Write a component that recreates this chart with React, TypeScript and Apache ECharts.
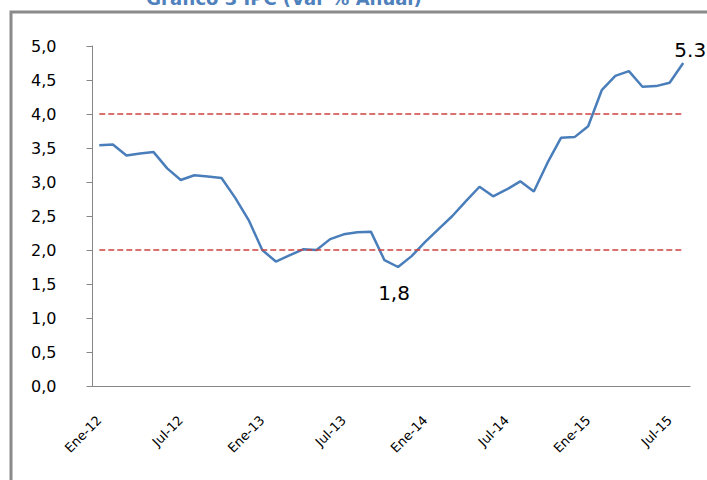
import React, { useEffect, useRef } from "react";
import * as echarts from "echarts";

const monthNames = ["Ene", "Feb", "Mar", "Abr", "May", "Jun", "Jul", "Ago", "Sep", "Oct", "Nov", "Dic"];
const years = ["12", "13", "14", "15"];
const monthCount = 44;
const categories: string[] = [];
for (let i = 0; i < monthCount; i++) {
  categories.push(monthNames[i % 12] + "-" + years[Math.floor(i / 12)]);
}

const ipc = [
  3.54, 3.55, 3.39, 3.42, 3.44, 3.2, 3.03, 3.1, 3.08, 3.06,
  2.77, 2.44, 2.0, 1.83, 1.92, 2.01, 2.0, 2.16, 2.23, 2.26,
  2.27, 1.85, 1.75, 1.91, 2.12, 2.31, 2.5, 2.72, 2.93, 2.79,
  2.89, 3.01, 2.86, 3.28, 3.65, 3.66, 3.82, 4.35, 4.56, 4.63,
  4.4, 4.41, 4.46, 4.75,
];

const targetBand = [2.0, 4.0];

const pointNotes = [
  { index: 22, text: "1,8", position: "bottom" },
  { index: 43, text: "5.3", position: "top" },
];

const yTicks = { min: 0, max: 5, interval: 0.5 };

const titleText = "Gráfico 3 IPC (Var % Anual)";

export default function App() {
  const ref = useRef<HTMLDivElement>(null);
  useEffect(() => {
    if (!ref.current) return;
    const chart = echarts.init(ref.current, null, { renderer: "svg" });
    const font = "DejaVu Sans";
    const data = ipc.map((v, i) => {
      const note = pointNotes.find((n) => n.index === i);
      if (!note) return v;
      return {
        value: v,
        label: {
          show: true,
          formatter: note.text,
          position: note.position,
          fontFamily: font,
          fontSize: 20,
          color: "#000",
          distance: note.position === "top" ? 3 : 16,
          offset: note.position === "top" ? [7, 0] : [-4, 0],
        },
      };
    });
    chart.setOption({
      animation: false,
      backgroundColor: "#fff",
      textStyle: { fontFamily: font },
      graphic: [
        {
          type: "rect",
          shape: { x: 11, y: 12, width: 900, height: 700 },
          style: { fill: "none", stroke: "#8a8a8a", lineWidth: 3 },
          silent: true,
        },
        {
          type: "text",
          x: 284,
          y: -1.5,
          style: {
            text: titleText,
            fill: "#4F81BD",
            font: "bold 18px DejaVu Sans",
            align: "center",
            verticalAlign: "middle",
          },
        },
      ],
      grid: { left: 92.5, right: 17, top: 46, bottom: 94, containLabel: false },
      xAxis: {
        type: "category",
        data: categories,
        boundaryGap: true,
        axisLine: { lineStyle: { color: "#868686", width: 1 } },
        axisTick: { interval: 5, length: 5, lineStyle: { color: "#868686" } },
        axisLabel: {
          interval: 5,
          rotate: 45,
          margin: 32,
          fontFamily: font,
          fontSize: 13,
          color: "#000",
        },
        splitLine: { show: false },
      },
      yAxis: {
        type: "value",
        min: yTicks.min,
        max: yTicks.max,
        interval: yTicks.interval,
        axisLine: { show: true, lineStyle: { color: "#868686", width: 1 } },
        axisTick: { show: true, length: 6, lineStyle: { color: "#868686" } },
        axisLabel: {
          margin: 36,
          fontFamily: font,
          fontSize: 16,
          color: "#000",
          formatter: (v: number) => v.toFixed(1).replace(".", ","),
        },
        splitLine: { show: false },
      },
      series: [
        {
          type: "line",
          data,
          symbol: "circle",
          symbolSize: 0,
          showSymbol: true,
          showAllSymbol: true,
          itemStyle: { color: "#4A7EBB" },
          lineStyle: { color: "#4A7EBB", width: 2.5 },
          markLine: {
            silent: true,
            symbol: ["none", "none"],
            label: { show: false },
            lineStyle: { color: "#D0433F", type: [6, 3], width: 1.5 },
            data: targetBand.map((t) => [
              { coord: [categories[0], t] },
              { coord: [categories[monthCount - 1], t] },
            ]),
          },
        },
      ],
    });
    return () => chart.dispose();
  }, []);
  return (
    <div
      ref={ref}
      style={{ position: "fixed", left: 0, top: 0, width: 707, height: 480 }}
    />
  );
}
